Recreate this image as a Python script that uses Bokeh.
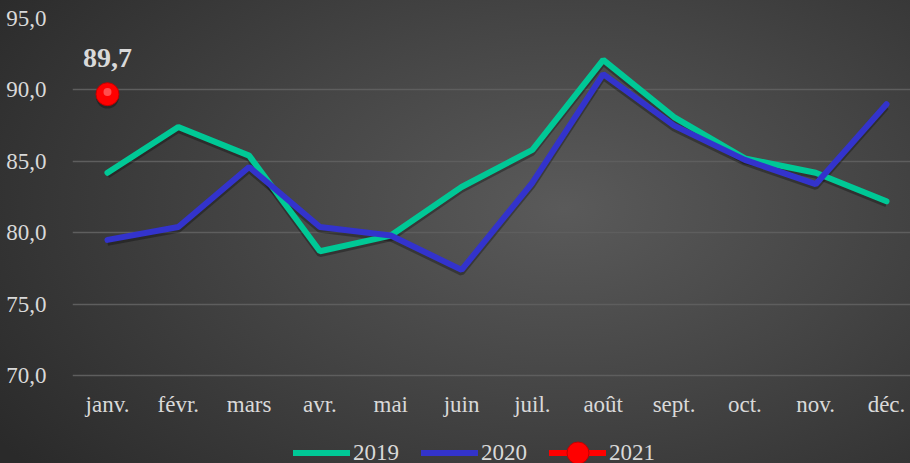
from bokeh.plotting import figure
from bokeh.models import Legend, LegendItem, FixedTicker, GlobalInlineStyleSheet
from bokeh.core.properties import value
from bokeh.embed import file_html
from bokeh.resources import INLINE

months = ["janv.", "févr.", "mars", "avr.", "mai", "juin", "juil.", "août", "sept.", "oct.", "nov.", "déc."]
y2019 = [84.2, 87.4, 85.4, 78.7, 79.8, 83.2, 85.8, 92.1, 88.1, 85.2, 84.2, 82.2]
y2020 = [79.5, 80.4, 84.6, 80.4, 79.8, 77.4, 83.5, 91.1, 87.5, 85.1, 83.4, 89.0]
y2021 = [89.7]
y_ticks = [70, 75, 80, 85, 90, 95]

xs = list(range(len(months)))
FONT = "Liberation Serif"
TXT = "#d9d9d9"

# frame spans the full height below the 95 line; the category axis sits at y = 70
p = figure(width=910, height=463, output_backend="svg", toolbar_location=None,
           x_range=(-0.494, 11.339), y_range=(63.84, 95))
p.stylesheets = [GlobalInlineStyleSheet(css="html, body { margin: 0 !important; padding: 0; background: #2b2b2b; overflow: hidden; }")]
p.styles = {"background": "radial-gradient(ellipse 75% 90% at 62% 45%, #5a5a5a 0%, #454545 45%, #2a2a2a 100%)"}
p.background_fill_alpha = 0
p.border_fill_alpha = 0
p.outline_line_color = None
p.min_border_left = 72
p.min_border_right = 0
p.min_border_top = 18
p.min_border_bottom = 0

p.xgrid.grid_line_color = None
p.ygrid.grid_line_color = "#5e5e5e"
p.ygrid.grid_line_width = 1.6
p.ygrid.ticker = FixedTicker(ticks=y_ticks)

p.yaxis.ticker = FixedTicker(ticks=y_ticks)
p.yaxis.major_label_overrides = {t: f"{t:.1f}".replace(".", ",") for t in y_ticks}
p.xaxis.ticker = FixedTicker(ticks=xs)
p.xaxis.major_label_overrides = {i: m for i, m in enumerate(months)}
p.xaxis.fixed_location = min(y_ticks)
for ax in (p.xaxis[0], p.yaxis[0]):
    ax.axis_line_color = None
    ax.major_tick_line_color = None
    ax.minor_tick_line_color = None
    ax.major_label_text_font = FONT
    ax.major_label_text_font_size = "23px"
    ax.major_label_text_color = TXT
p.yaxis.major_label_standoff = 20
p.xaxis.major_label_standoff = 10

# shadows
p.line(xs, [v - 0.2 for v in y2019], line_color="black", line_alpha=0.3, line_width=6)
p.line(xs, [v - 0.2 for v in y2020], line_color="black", line_alpha=0.3, line_width=6)

r19 = p.line(xs, y2019, line_color="#00c896", line_width=6, line_cap="round")
r20 = p.line(xs, y2020, line_color="#3333cc", line_width=6, line_cap="round")
x21 = xs[:len(y2021)]
r21l = p.line(x21, y2021, line_color="#ff0000", line_width=6, line_cap="round")
p.scatter(x21, [v - 0.2 for v in y2021], size=23, fill_color="black", fill_alpha=0.3, line_color=None)
r21m = p.scatter(x21, y2021, size=23, fill_color="#ff0000", line_color="#c00000", line_width=1)
p.scatter(x21, [v + 0.15 for v in y2021], size=8, fill_color="white", fill_alpha=0.3, line_color=None)

p.text(x21, y2021, text=[f"{v:.1f}".replace(".", ",") for v in y2021],
       text_font=value(FONT), text_font_size="28px", text_font_style="bold",
       text_color=TXT, text_align="center", text_baseline="alphabetic", y_offset=-36)

legend = Legend(items=[
    LegendItem(label="2019", renderers=[r19]),
    LegendItem(label="2020", renderers=[r20]),
    LegendItem(label="2021", renderers=[r21l, r21m]),
], orientation="horizontal", location=(221, -17))
legend.background_fill_alpha = 0
legend.border_line_color = None
legend.label_text_font = FONT
legend.label_text_font_size = "23px"
legend.label_text_color = TXT
legend.glyph_width = 57
legend.glyph_height = 55
legend.label_standoff = 3
legend.spacing = 22
legend.padding = 0
legend.margin = 0
p.add_layout(legend)

open("out.html", "w").write(file_html(p, INLINE))
